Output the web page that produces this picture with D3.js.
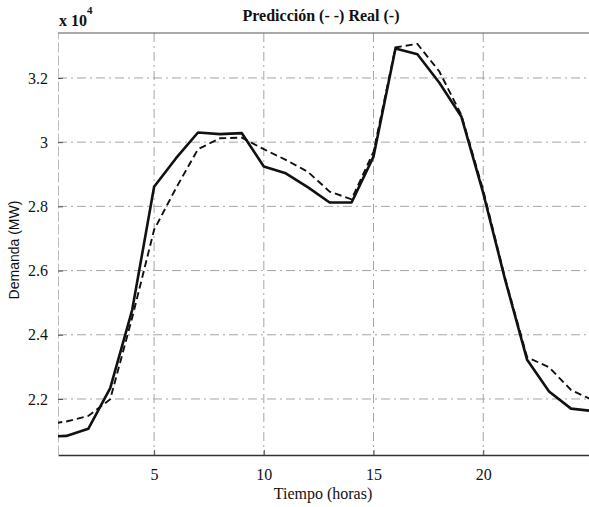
<!DOCTYPE html>
<html>
<head>
<meta charset="utf-8">
<script src="https://cdn.jsdelivr.net/npm/d3@7"></script>
<style>
  body { margin: 0; background: #fff; }
</style>
</head>
<body>
<div id="chart"></div>
<script>
// hourly demand (MW)
const hours = [0, 1, 2, 3, 4, 5, 6, 7, 8, 9, 10, 11, 12, 13, 14, 15, 16, 17, 18, 19, 20, 21, 22, 23, 24, 25];
const real = [20820, 20850, 21070, 22340, 24770, 28610, 29500, 30300, 30250, 30280, 29240, 29030, 28600, 28120,
  28120, 29550, 32920, 32740, 31850, 30800, 28410, 25710, 23220, 22230, 21700, 21625];
const prediccion = [21200, 21300, 21470, 21990, 24530, 27270, 28570, 29780, 30120, 30140, 29780, 29450, 29080, 28460,
  28220, 29700, 32950, 33060, 32200, 30850, 28500, 25750, 23300, 22990, 22280, 21960];
const xTicks = [5, 10, 15, 20];
const yTicks = [22000, 24000, 26000, 28000, 30000, 32000];

const serif = "'Liberation Serif', 'Times New Roman', serif";

const width = 589, height = 507;
const margin = { top: 33, right: 0, bottom: 52, left: 58 };

const svg = d3.select("#chart").append("svg")
  .attr("width", width)
  .attr("height", height)
  .style("font-family", serif);

const x = d3.scaleLinear().domain([0.62, 24.82]).range([margin.left, width - margin.right]);
const y = d3.scaleLinear().domain([20255, 33400]).range([height - margin.bottom, margin.top]);

svg.append("clipPath").attr("id", "plotArea")
  .append("rect")
  .attr("x", margin.left).attr("y", margin.top)
  .attr("width", width - margin.left - margin.right)
  .attr("height", height - margin.top - margin.bottom);

// grid (matlab style dotted lines)
svg.append("g").selectAll("line").data(xTicks).join("line")
  .attr("x1", d => x(d)).attr("x2", d => x(d))
  .attr("y1", margin.top).attr("y2", height - margin.bottom)
  .attr("stroke", "#a5a5a5").attr("stroke-width", 1)
  .attr("stroke-dasharray", "9,4,2,4");

svg.append("g").selectAll("line").data(yTicks).join("line")
  .attr("x1", margin.left).attr("x2", width)
  .attr("y1", d => y(d)).attr("y2", d => y(d))
  .attr("stroke", "#a5a5a5").attr("stroke-width", 1)
  .attr("stroke-dasharray", "9,4,2,4");

// axes
const xAxis = d3.axisBottom(x).tickValues(xTicks).tickSizeInner(-5).tickSizeOuter(0).tickPadding(14);
const yAxis = d3.axisLeft(y).tickValues(yTicks).tickSizeInner(-5).tickSizeOuter(0).tickPadding(10)
  .tickFormat(d => d3.format(".1~f")(d / 10000));

const gx = svg.append("g")
  .attr("transform", `translate(0,${height - margin.bottom})`)
  .call(xAxis)
  .attr("font-family", serif);
gx.select(".domain").attr("stroke", "#333").attr("stroke-width", 1.5);
gx.selectAll(".tick line").attr("stroke", "#555");
gx.selectAll("text").style("font-size", "16px").style("font-family", serif).attr("fill", "#111");

const gy = svg.append("g")
  .attr("transform", `translate(${margin.left},0)`)
  .call(yAxis)
  .attr("font-family", serif);
gy.select(".domain").attr("stroke", "#bbb").attr("stroke-width", 1).attr("stroke-dasharray", "10,3");
gy.selectAll(".tick line").attr("stroke", "#555");
gy.selectAll("text").style("font-size", "16px").style("font-family", serif).attr("fill", "#111");

// top border
svg.append("line")
  .attr("x1", margin.left).attr("x2", width)
  .attr("y1", margin.top).attr("y2", margin.top)
  .attr("stroke", "#555").attr("stroke-width", 1.2);

// lines
const line = d3.line()
  .x((d, i) => x(hours[i]))
  .y(d => y(d));

const plot = svg.append("g").attr("clip-path", "url(#plotArea)");

plot.append("path")
  .datum(prediccion)
  .attr("d", line)
  .attr("fill", "none")
  .attr("stroke", "#111")
  .attr("stroke-width", 1.9)
  .attr("stroke-dasharray", "7,4");

plot.append("path")
  .datum(real)
  .attr("d", line)
  .attr("fill", "none")
  .attr("stroke", "#111")
  .attr("stroke-width", 2.6)
  .attr("stroke-linejoin", "round");

// titles / labels
svg.append("text")
  .attr("x", 321).attr("y", 21)
  .attr("text-anchor", "middle")
  .attr("fill", "#111")
  .style("font-family", serif)
  .style("font-size", "16px").style("font-weight", "bold")
  .text("Predicción (- -) Real (-)");

const mult = svg.append("text")
  .attr("x", 59).attr("y", 26)
  .attr("fill", "#111")
  .style("font-family", serif)
  .style("font-size", "16px").style("font-weight", "bold");
mult.append("tspan").text("x 10");
mult.append("tspan").attr("dy", -12).style("font-size", "11px").text("4");

svg.append("text")
  .attr("x", 323).attr("y", 499)
  .attr("text-anchor", "middle")
  .attr("fill", "#111")
  .style("font-family", serif)
  .style("font-size", "16px")
  .text("Tiempo (horas)");

svg.append("text")
  .attr("transform", "translate(19,250) rotate(-90)")
  .attr("text-anchor", "middle")
  .attr("fill", "#111")
  .style("font-size", "14px")
  .style("font-family", "'Liberation Sans Narrow', 'Liberation Sans', Arial, sans-serif")
  .text("Demanda (MW)");
</script>
</body>
</html>
